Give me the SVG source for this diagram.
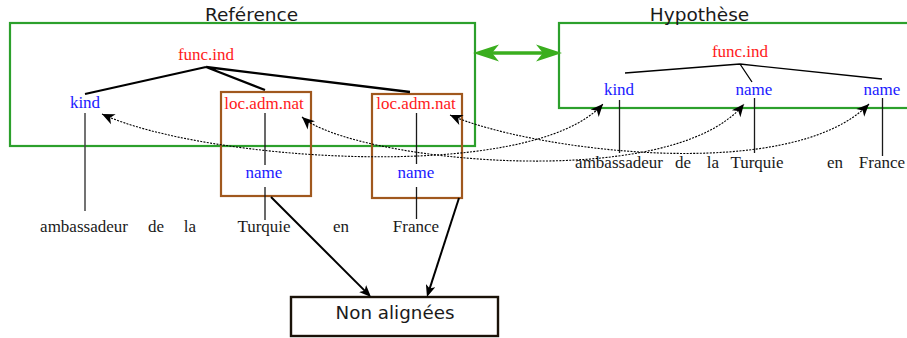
<svg xmlns="http://www.w3.org/2000/svg" width="907" height="338" viewBox="0 0 907 338">
<style>
.title{font-family:"DejaVu Sans",sans-serif;font-size:18.5px;fill:#1a1a1a;text-anchor:middle}
.lbl{font-family:"Liberation Serif",serif;font-size:17px;text-anchor:middle}
.red{fill:#ff1a1a}
.blue{fill:#1a1aff}
.word{font-family:"Liberation Serif",serif;font-size:17px;fill:#1a1a1a;text-anchor:middle}
.frame{fill:none;stroke:#2ca02c;stroke-width:2.2}
.brown{fill:none;stroke:#a0581e;stroke-width:2.2}
.edge{stroke:#000;stroke-width:2.3;fill:none}
.thin{stroke:#000;stroke-width:1.3;fill:none}
.stem{stroke:#1a1a1a;stroke-width:1.3}
.gstem{stroke:#444;stroke-width:1.5}
.dot{fill:none;stroke:#000;stroke-width:1.1;stroke-dasharray:2 1.3;marker-start:url(#ah);marker-end:url(#ah)}
.arr{fill:none;stroke:#000;stroke-width:2;marker-end:url(#bh)}
.green{fill:none;stroke:#3aae1e;stroke-width:3.3;marker-start:url(#gh);marker-end:url(#gh)}
</style>
<defs>
<marker id="ah" markerUnits="userSpaceOnUse" markerWidth="15" markerHeight="13" refX="13" refY="6.5" orient="auto-start-reverse" viewBox="0 0 15 13"><path d="M13,6.5 L0.5,1 L4,6.5 L0.5,12 Z" fill="#000"/></marker>
<marker id="bh" markerUnits="userSpaceOnUse" markerWidth="13" markerHeight="10" refX="9" refY="5" orient="auto" viewBox="0 0 13 10"><path d="M12,5 L0,0 L3,5 L0,10 Z" fill="#000"/></marker>
<marker id="gh" markerUnits="userSpaceOnUse" markerWidth="27" markerHeight="18" refX="14" refY="9" orient="auto-start-reverse" viewBox="0 0 27 18"><path d="M26,9 L0,0.5 L7,9 L0,17.5 Z" fill="#3aae1e"/></marker>
</defs>

<g id="ref-frame">
<rect class="frame" x="10" y="23" width="465" height="123"/>
<text class="title" x="251.5" y="21">Reférence</text>
</g>
<g id="hyp-frame">
<rect class="frame" x="559" y="23" width="360" height="85"/>
<text class="title" x="699.5" y="21">Hypothèse</text>
</g>

<g id="ref-func"><text class="lbl red" x="206" y="60">func.ind</text></g>
<g id="ref-kind"><text class="lbl blue" x="85" y="108">kind</text></g>
<g id="ref-loc1">
<rect class="brown" x="221" y="92" width="90" height="104"/>
<text class="lbl red" x="264" y="109">loc.adm.nat</text>
<text class="lbl blue" x="264" y="178">name</text>
</g>
<g id="ref-loc2">
<rect class="brown" x="372" y="94" width="90" height="104"/>
<text class="lbl red" x="416" y="109">loc.adm.nat</text>
<text class="lbl blue" x="416" y="178">name</text>
</g>
<g id="ref-words">
<text class="word" x="84" y="232">ambassadeur</text>
<text class="word" x="156" y="232">de</text>
<text class="word" x="190" y="232">la</text>
<text class="word" x="264" y="232">Turquie</text>
<text class="word" x="341" y="232">en</text>
<text class="word" x="416" y="232">France</text>
</g>

<g id="hyp-func"><text class="lbl red" x="740" y="57">func.ind</text></g>
<g id="hyp-kind"><text class="lbl blue" x="619" y="95">kind</text></g>
<g id="hyp-name1"><text class="lbl blue" x="754" y="95">name</text></g>
<g id="hyp-name2"><text class="lbl blue" x="882" y="95">name</text></g>
<g id="hyp-words">
<text class="word" x="619" y="168">ambassadeur</text>
<text class="word" x="683" y="168">de</text>
<text class="word" x="713" y="168">la</text>
<text class="word" x="757" y="168">Turquie</text>
<text class="word" x="835" y="168">en</text>
<text class="word" x="882" y="168">France</text>
</g>

<g id="non-alignees">
<rect x="291" y="297" width="207" height="39" fill="#fff" stroke="#1a1208" stroke-width="2.4"/>
<text class="title" x="395" y="319" style="font-size:18.3px">Non alignées</text>
</g>

<g id="connectors">
<path class="edge" d="M206,67 L85,94 M206,67 L265,90 M206,67 L410,92"/>
<path class="gstem" d="M85,113 V211"/>
<path class="stem" d="M265,113 V165 M265,187 V220 M416.5,113 V164 M416.5,187 V219"/>
<path class="thin" d="M740,64 L625,73 M740,64 L752,82 M740,64 L882,79"/>
<path class="stem" d="M619.5,100 V153 M754.5,98 V153 M882.5,98 V156"/>
<path class="green" d="M485,53 L550,53"/>
<path class="dot" d="M102,114 C200,160 530,185 603,104"/>
<path class="dot" d="M302,117 C350,160 670,195 744,104"/>
<path class="dot" d="M450,115 C530,150 790,185 869,104"/>
<path class="arr" d="M271,197 L368.9,294.9"/>
<path class="arr" d="M459,198 L427.9,294.1"/>
</g>
</svg>
